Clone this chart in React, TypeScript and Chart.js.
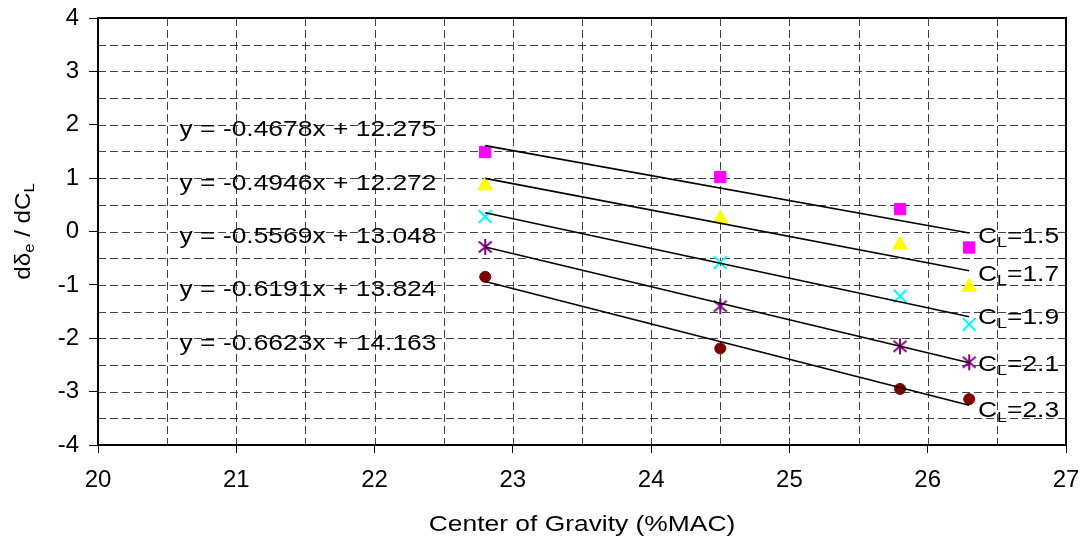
import React, { useEffect, useRef } from 'react';
import { Chart, registerables } from 'chart.js';

Chart.register(...registerables);

// ---- data ----
const xValues = [22.8, 24.5, 25.8, 26.3];
const cl15 = [1.49, 1.02, 0.42, -0.3];
const cl17 = [0.86, 0.24, -0.25, -1.04];
const cl19 = [0.28, -0.58, -1.21, -1.74];
const cl21 = [-0.29, -1.4, -2.15, -2.45];
const cl23 = [-0.85, -2.19, -2.95, -3.14];

const trendX = [22.8, 26.3];
const trend15 = [1.609, -0.028];
const trend17 = [0.995, -0.736];
const trend19 = [0.351, -1.598];
const trend21 = [-0.291, -2.458];
const trend23 = [-0.937, -3.255];

const clNames = ['1.5', '1.7', '1.9', '2.1', '2.3'];
const equations = [
  'y = -0.4678x + 12.275',
  'y = -0.4946x + 12.272',
  'y = -0.5569x + 13.048',
  'y = -0.6191x + 13.824',
  'y = -0.6623x + 14.163',
];
const equationX = 20.59;
const equationY = [1.9, 0.9, -0.1, -1.1, -2.1];
const clLabelX = 26.363;
const clLabelY = [-0.1, -0.82, -1.62, -2.5, -3.37];

const xMin = 20;
const xMax = 27;
const yMin = -4;
const yMax = 4;
const xTitle = 'Center of Gravity (%MAC)';

const FONT = '"Liberation Sans", Arial, sans-serif';
const SX = 1.2;

function makeStar(color: string): HTMLCanvasElement {
  const c = document.createElement('canvas');
  c.width = 18;
  c.height = 18;
  const g = c.getContext('2d')!;
  g.strokeStyle = color;
  g.lineWidth = 2;
  g.beginPath();
  g.moveTo(2.5, 3.5);
  g.lineTo(15.5, 14.5);
  g.moveTo(15.5, 3.5);
  g.lineTo(2.5, 14.5);
  g.moveTo(9, 1);
  g.lineTo(9, 17);
  g.stroke();
  return c;
}

type Seg = { t: string; sub?: boolean };

function segWidth(ctx: CanvasRenderingContext2D, segs: Seg[], big: number, small: number) {
  let w = 0;
  for (const s of segs) {
    ctx.font = `${s.sub ? small : big}px ${FONT}`;
    w += ctx.measureText(s.t).width;
  }
  return w;
}

function drawSegs(ctx: CanvasRenderingContext2D, segs: Seg[], x: number, y: number, big: number, small: number) {
  let cx = x;
  ctx.textBaseline = 'middle';
  ctx.textAlign = 'left';
  for (const s of segs) {
    ctx.font = `${s.sub ? small : big}px ${FONT}`;
    ctx.fillText(s.t, cx, s.sub ? y + 6 : y);
    cx += ctx.measureText(s.t).width;
  }
}

const decorPlugin = {
  id: 'decor',
  beforeDatasetsDraw(chart: any) {
    const { ctx, chartArea: a, scales } = chart;
    const xs = scales.x;
    const ys = scales.y;
    ctx.save();
    ctx.strokeStyle = '#444';
    ctx.lineWidth = 1;
    ctx.setLineDash([8, 4]);
    for (const t of xs.ticks) {
      if (t.value <= xMin || t.value >= xMax) continue;
      const px = Math.round(xs.getPixelForValue(t.value)) + 0.5;
      ctx.beginPath();
      ctx.moveTo(px, a.top);
      ctx.lineTo(px, a.bottom);
      ctx.stroke();
    }
    for (const t of ys.ticks) {
      if (t.value <= yMin || t.value >= yMax) continue;
      const py = Math.round(ys.getPixelForValue(t.value)) + 0.5;
      ctx.beginPath();
      ctx.moveTo(a.left, py);
      ctx.lineTo(a.right, py);
      ctx.stroke();
    }
    ctx.restore();
  },
  afterDatasetsDraw(chart: any) {
    const { ctx, chartArea: a, scales } = chart;
    const xs = scales.x;
    const ys = scales.y;
    ctx.save();
    // frame
    ctx.strokeStyle = '#000';
    ctx.lineWidth = 2;
    ctx.setLineDash([]);
    ctx.strokeRect(a.left, a.top, a.right - a.left, a.bottom - a.top);

    ctx.fillStyle = '#000';
    // equations
    equations.forEach((eq, i) => {
      ctx.save();
      ctx.translate(xs.getPixelForValue(equationX), ys.getPixelForValue(equationY[i]));
      ctx.scale(SX, 1);
      ctx.font = `22px ${FONT}`;
      ctx.textBaseline = 'middle';
      ctx.textAlign = 'left';
      ctx.fillText(eq, 0, 0);
      ctx.restore();
    });
    // CL labels
    clNames.forEach((n, i) => {
      ctx.save();
      ctx.translate(xs.getPixelForValue(clLabelX), ys.getPixelForValue(clLabelY[i]));
      ctx.scale(SX, 1);
      drawSegs(ctx, [{ t: 'C' }, { t: 'L', sub: true }, { t: '=' + n }], 0, 0, 22, 15);
      ctx.restore();
    });
    // x title
    ctx.save();
    ctx.translate((a.left + a.right) / 2, 525);
    ctx.scale(SX, 1);
    ctx.font = `22px ${FONT}`;
    ctx.textAlign = 'center';
    ctx.textBaseline = 'middle';
    ctx.fillText(xTitle, 0, 0);
    ctx.restore();
    // y title
    const ySegs: Seg[] = [{ t: 'dδ' }, { t: 'e', sub: true }, { t: ' / dC' }, { t: 'L', sub: true }];
    ctx.save();
    ctx.translate(24, (a.top + a.bottom) / 2);
    ctx.rotate(-Math.PI / 2);
    ctx.scale(1.1, 1);
    const w = segWidth(ctx, ySegs, 22, 15);
    drawSegs(ctx, ySegs, -w / 2, 0, 22, 15);
    ctx.restore();
    ctx.restore();
  },
};

const pts = (ys: number[]) => xValues.map((x, i) => ({ x, y: ys[i] }));
const trend = (ys: number[]) => trendX.map((x, i) => ({ x, y: ys[i] }));

const zeroPad = (s: any) => {
  s.paddingLeft = 0;
  s.paddingRight = 0;
  s.paddingTop = 0;
  s.paddingBottom = 0;
};

export default function App() {
  const ref = useRef<HTMLCanvasElement | null>(null);
  useEffect(() => {
    if (!ref.current) return;
    const trendStyle = {
      type: 'line' as const,
      showLine: true,
      borderColor: '#000',
      borderWidth: 1.6,
      pointRadius: 0,
      fill: false,
    };
    const chart = new Chart(ref.current, {
      type: 'scatter',
      data: {
        datasets: [
          { ...trendStyle, data: trend(trend15) },
          { ...trendStyle, data: trend(trend17) },
          { ...trendStyle, data: trend(trend19) },
          { ...trendStyle, data: trend(trend21) },
          { ...trendStyle, data: trend(trend23) },
          {
            label: 'CL=1.5',
            data: pts(cl15),
            pointStyle: 'rect',
            pointRadius: 8,
            backgroundColor: '#FF00FF',
            borderColor: '#FF00FF',
            borderWidth: 1,
          },
          {
            label: 'CL=1.7',
            data: pts(cl17),
            pointStyle: 'triangle',
            pointRadius: 8.5,
            backgroundColor: '#FFFF00',
            borderColor: '#FFFF00',
            borderWidth: 1,
          },
          {
            label: 'CL=1.9',
            data: pts(cl19),
            pointStyle: 'crossRot',
            pointRadius: 9,
            backgroundColor: '#00FFFF',
            borderColor: '#00FFFF',
            borderWidth: 2,
          },
          {
            label: 'CL=2.1',
            data: pts(cl21),
            pointStyle: makeStar('#800080'),
            pointRadius: 9,
            backgroundColor: '#800080',
            borderColor: '#800080',
            borderWidth: 2,
          },
          {
            label: 'CL=2.3',
            data: pts(cl23),
            pointStyle: 'circle',
            pointRadius: 5.5,
            backgroundColor: '#800000',
            borderColor: '#800000',
            borderWidth: 1,
          },
        ],
      },
      options: {
        animation: false,
        responsive: true,
        maintainAspectRatio: false,
        layout: { padding: { top: 18, right: 20, left: 0, bottom: 0 } },
        plugins: { legend: { display: false }, tooltip: { enabled: false } },
        scales: {
          x: {
            type: 'linear',
            min: xMin,
            max: xMax,
            afterFit: (s: any) => {
              s.height = 97;
              zeroPad(s);
            },
            ticks: {
              stepSize: 0.5,
              autoSkip: false,
              maxRotation: 0,
              padding: 13,
              color: '#000',
              font: { family: FONT, size: 24 },
              callback: (v: any) => (Number.isInteger(v) ? String(v) : ''),
            },
            grid: {
              drawOnChartArea: false,
              drawTicks: true,
              tickLength: 8,
              tickColor: (c: any) => (c.tick && Number.isInteger(c.tick.value) ? '#000' : 'rgba(0,0,0,0)'),
            },
            border: { display: false },
          },
          y: {
            type: 'linear',
            min: yMin,
            max: yMax,
            afterFit: (s: any) => {
              s.width = 98;
              zeroPad(s);
            },
            ticks: {
              stepSize: 0.5,
              autoSkip: false,
              padding: 10,
              color: '#000',
              font: { family: FONT, size: 24 },
              callback: (v: any) => (Number.isInteger(v) ? String(v) : ''),
            },
            grid: {
              drawOnChartArea: false,
              drawTicks: true,
              tickLength: 9,
              tickColor: (c: any) => (c.tick && Number.isInteger(c.tick.value) ? '#000' : 'rgba(0,0,0,0)'),
            },
            border: { display: false },
          },
        },
      },
      plugins: [decorPlugin],
    });
    return () => chart.destroy();
  }, []);
  return (
    <div style={{ position: 'absolute', left: 0, top: 0, width: 1086, height: 542, background: '#fff' }}>
      <canvas ref={ref} />
    </div>
  );
}
